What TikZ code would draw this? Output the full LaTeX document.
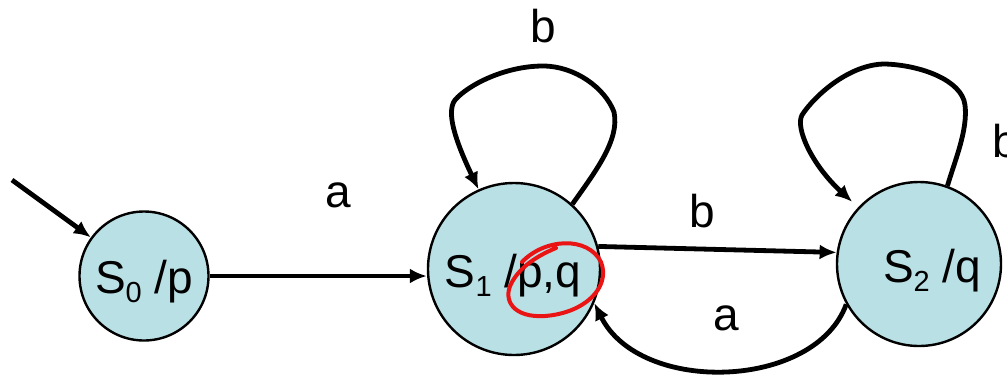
\documentclass[tikz,border=0pt]{standalone}
\usepackage{fontspec}
\setmainfont{Liberation Sans}
\usetikzlibrary{arrows.meta}
\definecolor{statefill}{RGB}{185,224,229}
\definecolor{markred}{RGB}{235,20,20}
\tikzset{
  statebox/.style={circle, draw=black, line width=2.4pt, fill=statefill, inner sep=0pt},
  stxt/.style={inner sep=0pt, anchor=base, font=\fontsize{46}{50}\selectfont},
  lbl/.style={inner sep=0pt, anchor=base, font=\fontsize{46}{50}\selectfont},
  arr/.style={line width=4.8pt, -{Latex[length=17pt,width=15pt]}},
}
\newcommand{\subsc}[1]{\raisebox{-9pt}{\fontsize{29}{30}\selectfont #1}}
\begin{document}
\begin{tikzpicture}[x=1pt,y=-1pt]
\useasboundingbox (0,0) rectangle (1007,376);
\node[statebox, minimum size=129pt] (s0) at (144,276) {};
\node[statebox, minimum size=172pt] (s1) at (514,269) {};
\node[statebox, minimum size=164pt] (s2) at (919,264) {};
\node[stxt] (t0) at (144,293) {S\subsc{0} /p};
\node[stxt] (t1) at (513,287) {S\subsc{1} /p,q};
\node[stxt] (t2) at (932,282) {S\subsc{2} /q};
% red hand-drawn mark
\draw[markred, line width=4pt, line cap=round]
  (522,262) .. controls (545,238) and (588,236) .. (601,262)
  .. controls (611,287) and (585,313) .. (545,316)
  .. controls (513,318) and (503,300) .. (511,284)
  .. controls (518,270) and (532,258) .. (556,248);
% edges
\coordinate (init) at (12,180);
\draw[arr] (init) -- (s0);
\draw[arr] (s0.east) -- (s0.east -| s1.west);
\draw[arr] (s1.15) -- (s2.172);
\draw[arr] (s2.209) .. controls (815,390) and (640,395) .. (s1.337);
\draw[arr] (s1.48) .. controls (595,172) and (620,140) .. (614,112)
  .. controls (605,88) and (575,66) .. (543,66)
  .. controls (505,66) and (468,85) .. (455,100)
  .. controls (446,112) and (455,140) .. (s1.114);
\draw[arr, shorten >=8pt] (s2.70) .. controls (955,160) and (968,130) .. (965,105)
  .. controls (962,80) and (920,65) .. (885,64)
  .. controls (850,64) and (815,95) .. (802,115)
  .. controls (795,128) and (812,165) .. (s2.137);
% labels
\node[lbl] (la1) at (338,207) {a};
\node[lbl] (lb1) at (543,42) {b};
\node[lbl] (lb2) at (702,227) {b};
\node[lbl] (la2) at (726,330) {a};
\node[lbl, anchor=base west] (lb3) at (992,157) {b};
\end{tikzpicture}
\end{document}
